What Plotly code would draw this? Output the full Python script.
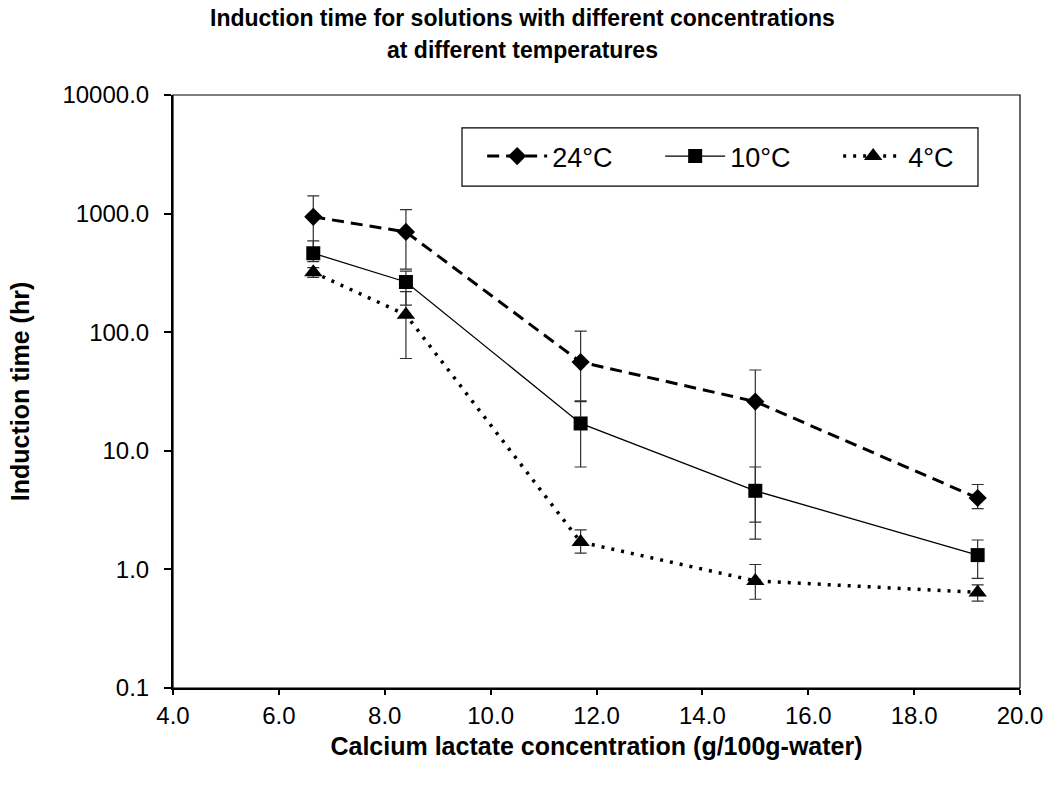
import plotly.graph_objects as go

# Calcium lactate concentration (g/100g-water)
conc = [6.65, 8.4, 11.7, 15.0, 19.2]

# Mean induction times (hr) and error bar half-widths per temperature
t24 = [940, 700, 56, 26, 4.0]
t24_plus = [470, 380, 46, 22, 1.2]
t24_minus = [470, 360, 30, 23.5, 0.75]

t10 = [463, 265, 17, 4.6, 1.32]
t10_plus = [125, 62, 9.4, 2.7, 0.45]
t10_minus = [70, 96, 9.7, 2.8, 0.48]

t4 = [320, 140, 1.7, 0.8, 0.64]
t4_plus = [30, 80, 0.45, 0.3, 0.1]
t4_minus = [30, 80, 0.33, 0.24, 0.1]

y_ticks = [0.1, 1, 10, 100, 1000, 10000]
y_tick_text = ["0.1", "1.0", "10.0", "100.0", "1000.0", "10000.0"]
x_ticks = [4, 6, 8, 10, 12, 14, 16, 18, 20]

FONT = "Liberation Sans, Arial, sans-serif"


def err(plus, minus):
    return dict(type="data", symmetric=False, array=plus, arrayminus=minus,
                color="#303030", thickness=1.2, width=6)


fig = go.Figure()
fig.add_trace(go.Scatter(
    x=conc, y=t24, name="24°C", mode="lines+markers",
    line=dict(color="black", width=3, dash="12px,7px"),
    marker=dict(symbol="diamond", size=14, color="black"),
    error_y=err(t24_plus, t24_minus)))
fig.add_trace(go.Scatter(
    x=conc, y=t10, name="10°C", mode="lines+markers",
    line=dict(color="black", width=1.3),
    marker=dict(symbol="square", size=14, color="black"),
    error_y=err(t10_plus, t10_minus)))
fig.add_trace(go.Scatter(
    x=conc, y=t4, name="4°C", mode="lines+markers",
    line=dict(color="black", width=3.5, dash="3px,7px"),
    marker=dict(symbol="triangle-up", size=16, color="black"),
    error_y=err(t4_plus, t4_minus)))

fig.update_layout(
    width=1047, height=790,
    margin=dict(l=173, r=27, t=95, b=102),
    paper_bgcolor="white", plot_bgcolor="white",
    font=dict(family=FONT, color="black"),
    showlegend=True,
    legend=dict(
        orientation="h", x=0.365, y=0.9376, xanchor="left", yanchor="top",
        borderwidth=0, bgcolor="rgba(0,0,0,0)",
        font=dict(size=27, family=FONT), itemwidth=60, entrywidth=103,
        traceorder="normal"),
    xaxis=dict(
        range=[4, 20], tickvals=x_ticks, tickformat=".1f", automargin=False,
        showline=True, linecolor="black", linewidth=2,
        ticks="outside", ticklen=5, tickcolor="black", tickwidth=1.5,
        showgrid=False, zeroline=False,
        tickfont=dict(size=24, family=FONT),
        title=dict(text="<b>Calcium lactate concentration (g/100g-water)</b>",
                   font=dict(size=25, family=FONT), standoff=10)),
    yaxis=dict(
        type="log", range=[-1, 4], tickvals=y_ticks, ticktext=y_tick_text,
        automargin=False,
        showline=True, linecolor="black", linewidth=2,
        ticks="outside", ticklen=7, tickcolor="black", tickwidth=1.5,
        ticklabelstandoff=10,
        showgrid=False, zeroline=False,
        tickfont=dict(size=24, family=FONT),
        title=dict(text="<b>Induction time (hr)</b>",
                   font=dict(size=25, family=FONT), standoff=26)),
    shapes=[
        # plot-area frame
        dict(type="rect", xref="paper", yref="paper", x0=0, y0=0, x1=1, y1=1,
             line=dict(color="black", width=1.2), layer="above"),
        # legend frame
        dict(type="rect", xref="paper", yref="paper",
             x0=0.3412, x1=0.9504, y0=0.8465, y1=0.9444,
             line=dict(color="black", width=1.2), fillcolor="white", layer="below"),
    ],
    annotations=[
        dict(text="<b>Induction time for solutions with different concentrations</b>",
             xref="paper", yref="paper", x=0.413, y=1.1298,
             xanchor="center", yanchor="middle", showarrow=False,
             font=dict(size=23, family=FONT)),
        dict(text="<b>at different temperatures</b>",
             xref="paper", yref="paper", x=0.413, y=1.0759,
             xanchor="center", yanchor="middle", showarrow=False,
             font=dict(size=23, family=FONT)),
    ],
)

fig.write_html("out.html")
